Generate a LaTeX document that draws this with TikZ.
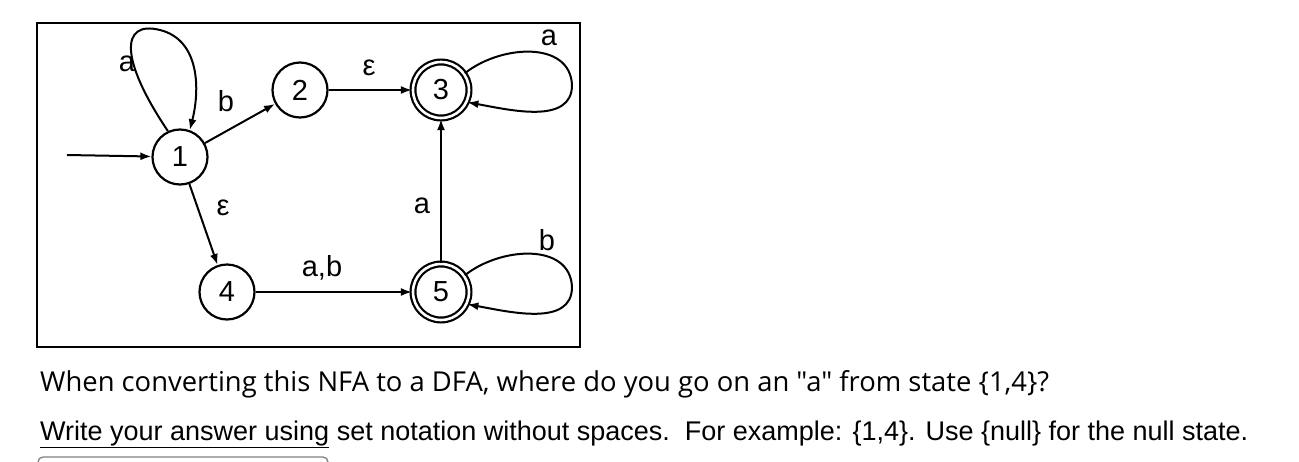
\documentclass[tikz,border=0pt]{standalone}
\usepackage{fontspec}
\setmainfont{Liberation Sans}
\newfontfamily\opensans{Open Sans}
\usetikzlibrary{arrows.meta}
\begin{document}
\begin{tikzpicture}[x=1pt,y=-1pt,
  st/.style={circle,draw,line width=2.2pt,minimum size=55pt,inner sep=0pt,font=\fontsize{29}{29}\selectfont},
  acc/.style={st,double,double distance=2.6pt,minimum size=56pt},
  tr/.style={line width=2pt,-{Latex[length=11pt,width=8pt]}},
  lb/.style={font=\fontsize{29}{29}\selectfont,inner sep=1pt}]
\useasboundingbox (0,0) rectangle (1299,461);
\draw[line width=2pt] (37,23) rectangle (580,347);
\node[st] (n1) at (180,157) {1};
\node[st] (n2) at (300,90) {2};
\node[acc] (n3) at (441,90) {3};
\node[st] (n4) at (227,292) {4};
\node[acc] (n5) at (441,292) {5};
\coordinate (s) at (67,155);
\draw[tr] (s) -- (n1);
\draw[tr] (n1.115) .. controls (120,60) and (120,20) .. (160,30) .. controls (200,40) and (200,90) .. (n1.70);
\draw[tr] (n1) -- (n2);
\draw[tr] (n2) -- (n3);
\draw[tr] (n1) -- (n4);
\draw[tr] (n4) -- (n5);
\draw[tr] (n5) -- (n3);
\draw[tr] (n3.35) .. controls (500,45) and (570,40) .. (572,85) .. controls (572,125) and (510,110) .. (n3.-25);
\draw[tr] (n5.35) .. controls (500,247) and (570,242) .. (572,287) .. controls (572,327) and (510,312) .. (n5.-25);
\node[lb] (l1) at (127,64) {a};
\node[lb] (l2) at (226,101) {b};
\node[lb] (l3) at (369,68) {ε};
\node[lb] (l4) at (223,208) {ε};
\node[lb] (l5) at (322,268) {a,b};
\node[lb] (l6) at (422,206) {a};
\node[lb] (l7) at (549,38) {a};
\node[lb] (l8) at (547,240) {b};
\node[anchor=base west,inner sep=0pt,font=\opensans\fontsize{27.4}{27.4}\selectfont] (q1) at (40,391) {When converting this NFA to a DFA, where do you go on an "a" from state \{1,4\}?};
\node[anchor=base west,inner sep=0pt,font=\fontsize{27}{27}\selectfont] (q2) at (40,440) {\underline{Write your answer using} set notation without spaces.\ \ For example: \{1,4\}. Use \{null\} for the null state.};
\draw[gray,line width=1.3pt,rounded corners=5pt] (38,470) -- (38,457) -- (328,457) -- (328,470);
\end{tikzpicture}
\end{document}
